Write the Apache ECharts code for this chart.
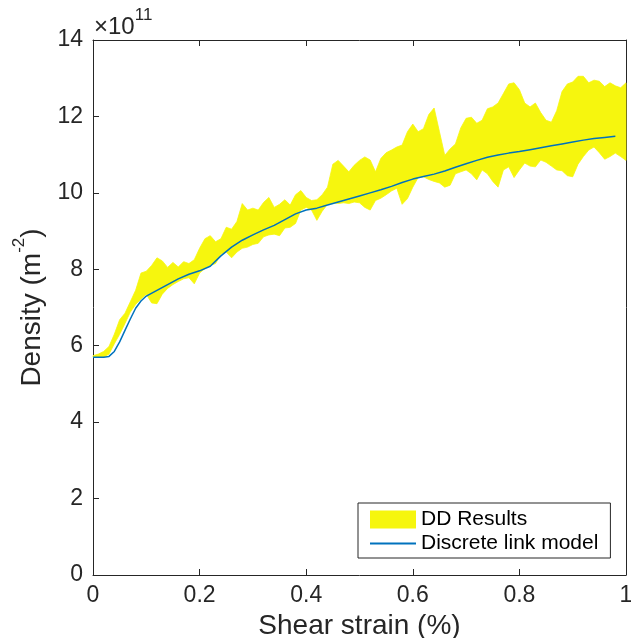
<!DOCTYPE html>
<html>
<head>
<meta charset="utf-8">
<script src="https://cdn.jsdelivr.net/npm/echarts@6/dist/echarts.min.js"></script>
<style>
  html, body { margin: 0; padding: 0; background: #ffffff; }
  #chart { width: 631px; height: 638px; }
</style>
</head>
<body>
<div id="chart"></div>
<script>
// Shear strain (%) grid on which the DD envelope is sampled
const strainGrid = [
  0.00, 0.01, 0.02, 0.03, 0.04, 0.05, 0.06, 0.07, 0.08, 0.09,
  0.10, 0.11, 0.12, 0.13, 0.14, 0.15, 0.16, 0.17, 0.18, 0.19,
  0.20, 0.21, 0.22, 0.23, 0.24, 0.25, 0.26, 0.27, 0.28, 0.29,
  0.30, 0.31, 0.32, 0.33, 0.34, 0.35, 0.36, 0.37, 0.38, 0.39,
  0.40, 0.41, 0.42, 0.43, 0.44, 0.45, 0.46, 0.47, 0.48, 0.49,
  0.50, 0.51, 0.52, 0.53, 0.54, 0.55, 0.56, 0.57, 0.58, 0.59,
  0.60, 0.61, 0.62, 0.63, 0.64, 0.65, 0.66, 0.67, 0.68, 0.69,
  0.70, 0.71, 0.72, 0.73, 0.74, 0.75, 0.76, 0.77, 0.78, 0.79,
  0.80, 0.81, 0.82, 0.83, 0.84, 0.85, 0.86, 0.87, 0.88, 0.89,
  0.90, 0.91, 0.92, 0.93, 0.94, 0.95, 0.96, 0.97, 0.98, 0.99,
  1.00
];

// DD results: upper edge of the scatter band (x 1e11 m^-2)
const ddUpper = [
  5.74, 5.78, 5.85, 5.98, 6.30, 6.68, 6.85, 7.15, 7.45, 7.90,
  7.95, 8.10, 8.30, 8.22, 8.05, 8.18, 8.06, 8.20, 8.15, 8.25,
  8.55, 8.80, 8.88, 8.72, 8.80, 9.10, 9.05, 9.25, 9.72, 9.55,
  9.60, 9.55, 9.75, 9.88, 9.62, 9.70, 9.82, 9.68, 9.95, 10.06,
  9.88, 9.80, 9.82, 9.95, 10.15, 10.75, 10.85, 10.70, 10.55, 10.72,
  10.85, 10.94, 10.86, 10.55, 10.90, 11.05, 11.12, 11.20, 11.25, 11.60,
  11.80, 11.60, 11.68, 12.05, 12.22, 11.60, 10.98, 11.15, 11.28, 11.70,
  11.95, 11.98, 11.82, 11.90, 12.20, 12.25, 12.35, 12.60, 12.85, 12.88,
  12.70, 12.35, 12.25, 12.35, 12.10, 11.90, 11.85, 12.15, 12.65, 12.85,
  12.90, 13.05, 13.05, 12.88, 12.95, 12.92, 12.78, 12.88, 12.80, 12.75,
  12.88
];

// DD results: lower edge of the scatter band (x 1e11 m^-2)
const ddLower = [
  5.70, 5.70, 5.70, 5.78, 6.05, 6.30, 6.58, 6.88, 7.08, 7.22,
  7.35, 7.12, 7.10, 7.35, 7.50, 7.60, 7.68, 7.75, 7.78, 7.62,
  7.90, 8.02, 8.10, 8.15, 8.40, 8.45, 8.30, 8.45, 8.55, 8.58,
  8.65, 8.68, 8.85, 8.90, 8.92, 8.88, 9.08, 9.10, 9.20, 9.55,
  9.62, 9.55, 9.28, 9.52, 9.70, 9.74, 9.72, 9.74, 9.72, 9.76,
  9.74, 9.62, 9.55, 9.80, 9.86, 9.95, 10.05, 10.12, 9.70, 9.85,
  10.15, 10.40, 10.42, 10.35, 10.30, 10.26, 10.15, 10.20, 10.50, 10.55,
  10.60, 10.50, 10.34, 10.60, 10.50, 10.30, 10.15, 10.60, 10.68, 10.40,
  10.60, 10.78, 10.70, 10.68, 10.86, 10.80, 10.70, 10.60, 10.58, 10.45,
  10.42, 10.75, 10.95, 11.12, 11.20, 11.05, 10.88, 10.95, 11.04, 10.95,
  10.85
];

// Discrete link model prediction
const modelStrain = [
  0.00, 0.02, 0.03, 0.04, 0.05, 0.06, 0.07, 0.08, 0.09, 0.10,
  0.12, 0.14, 0.16, 0.18, 0.20, 0.22, 0.24, 0.26, 0.28, 0.30,
  0.32, 0.34, 0.36, 0.38, 0.40, 0.42, 0.44, 0.46, 0.48, 0.50,
  0.52, 0.54, 0.56, 0.58, 0.60, 0.62, 0.64, 0.66, 0.68, 0.70,
  0.72, 0.74, 0.76, 0.78, 0.80, 0.82, 0.84, 0.86, 0.88, 0.90,
  0.92, 0.94, 0.96, 0.98
];
const modelDensity = [
  5.70, 5.70, 5.72, 5.85, 6.10, 6.40, 6.70, 6.98, 7.17, 7.30,
  7.45, 7.60, 7.75, 7.87, 7.96, 8.08, 8.35, 8.58, 8.76, 8.90,
  9.03, 9.15, 9.30, 9.45, 9.55, 9.60, 9.68, 9.76, 9.84, 9.92,
  10.00, 10.08, 10.17, 10.27, 10.36, 10.43, 10.49, 10.57, 10.67, 10.76,
  10.85, 10.93, 10.99, 11.04, 11.08, 11.13, 11.18, 11.23, 11.28, 11.33,
  11.38, 11.42, 11.45, 11.48
];

const YELLOW = '#f6f60e';
const BLUE = '#0072bd';
const INK = '#262626';
const FONT = '"Liberation Sans", Arial, Helvetica, sans-serif';

const bandData = strainGrid.map((x, i) => [x, ddLower[i], ddUpper[i]]);
const modelLine = modelStrain.map((x, i) => [x, modelDensity[i]]);

// Whole band as one polygon: upper edge left-to-right, lower edge back
function renderBand(params, api) {
  if (params.dataIndex !== 0) return null;
  const pts = [];
  for (let i = 0; i < bandData.length; i++) {
    pts.push(api.coord([bandData[i][0], bandData[i][2]]));
  }
  for (let i = bandData.length - 1; i >= 0; i--) {
    pts.push(api.coord([bandData[i][0], bandData[i][1]]));
  }
  return {
    type: 'polygon',
    shape: { points: pts },
    style: { fill: YELLOW, stroke: YELLOW, lineWidth: 0.8 }
  };
}

const chart = echarts.init(document.getElementById('chart'), null, { renderer: 'canvas' });

chart.setOption({
  animation: false,
  backgroundColor: '#ffffff',
  textStyle: { fontFamily: FONT },
  grid: { left: 93, top: 40, right: 5, bottom: 63, containLabel: false, outerBoundsMode: 'none' },
  graphic: [{
    type: 'text',
    left: 94,
    top: 7,
    style: {
      text: '{a|\u00d710}{b|11}',
      rich: {
        a: { fontSize: 24, fontFamily: FONT, fill: INK, verticalAlign: 'bottom', lineHeight: 32 },
        b: { fontSize: 17, fontFamily: FONT, fill: INK, verticalAlign: 'top', lineHeight: 32 }
      }
    }
  }],
  xAxis: [{
    type: 'value',
    min: 0, max: 1, interval: 0.2,
    name: 'Shear strain (%)',
    nameLocation: 'middle',
    nameGap: 33,
    nameTextStyle: { fontSize: 28, color: INK, fontFamily: FONT },
    axisLine: { show: true, lineStyle: { color: INK, width: 1 } },
    axisTick: { show: true, inside: true, length: 6, lineStyle: { color: INK } },
    axisLabel: { fontSize: 23, color: INK, margin: 9, fontFamily: FONT },
    splitLine: { show: false }
  }, {
    type: 'value',
    position: 'top',
    min: 0, max: 1, interval: 0.2,
    axisLine: { show: true, onZero: false, lineStyle: { color: INK, width: 1 } },
    axisTick: { show: true, inside: true, length: 6, lineStyle: { color: INK } },
    axisLabel: { show: false },
    splitLine: { show: false }
  }],
  yAxis: [{
    type: 'value',
    min: 0, max: 14, interval: 2,
    name: '{n|Density (m}{s|-2}{n|)}',
    nameLocation: 'middle',
    nameGap: 42,
    nameRotate: 90,
    nameTextStyle: {
      color: INK,
      rich: {
        n: { fontSize: 28, fontFamily: FONT, color: INK, verticalAlign: 'bottom', lineHeight: 36 },
        s: { fontSize: 17, fontFamily: FONT, color: INK, verticalAlign: 'top', lineHeight: 36 }
      }
    },
    axisLine: { show: true, lineStyle: { color: INK, width: 1 } },
    axisTick: { show: true, inside: true, length: 6, lineStyle: { color: INK } },
    axisLabel: { fontSize: 23, color: INK, margin: 10, fontFamily: FONT },
    splitLine: { show: false }
  }, {
    type: 'value',
    position: 'right',
    min: 0, max: 14, interval: 2,
    axisLine: { show: true, onZero: false, lineStyle: { color: INK, width: 1 } },
    axisTick: { show: false },
    axisLabel: { show: false },
    splitLine: { show: false }
  }],
  legend: {
    orient: 'vertical',
    left: 358,
    top: 503,
    itemWidth: 46,
    itemHeight: 18,
    itemGap: 3,
    padding: [6, 12, 4, 11],
    borderColor: INK,
    borderWidth: 1,
    borderRadius: 0,
    backgroundColor: '#ffffff',
    textStyle: { fontSize: 21, color: '#000000', fontFamily: FONT },
    data: [
      { name: 'DD Results', icon: 'rect', itemStyle: { color: YELLOW } },
      { name: 'Discrete link model', itemStyle: { color: 'rgba(0,0,0,0)', borderWidth: 0 } }
    ]
  },
  series: [{
    type: 'custom',
    name: 'DD Results',
    data: bandData,
    encode: { x: 0, y: [1, 2] },
    renderItem: renderBand,
    itemStyle: { color: YELLOW },
    silent: true,
    z: 2
  }, {
    type: 'line',
    name: 'Discrete link model',
    data: modelLine,
    symbol: 'none',
    itemStyle: { color: BLUE },
    lineStyle: { color: BLUE, width: 1.5 },
    z: 4
  }]
});
</script>
</body>
</html>
